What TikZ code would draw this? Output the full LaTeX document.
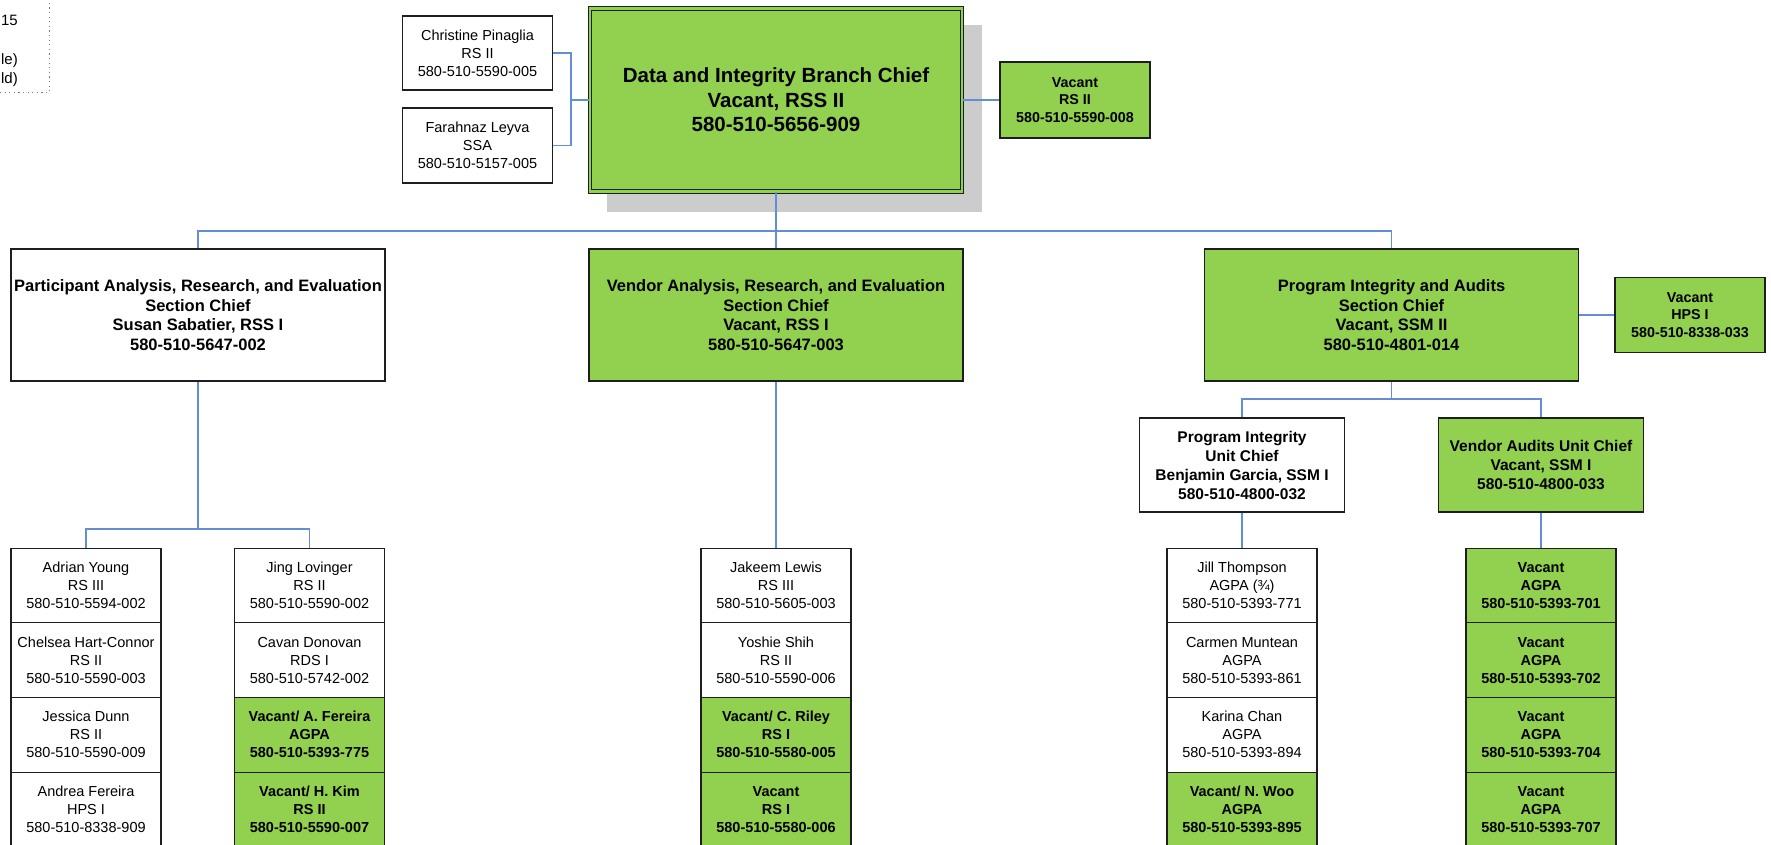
\documentclass[tikz,border=0pt]{standalone}
\usepackage{fontspec}
\setmainfont{Liberation Sans}
\definecolor{vgreen}{RGB}{146,208,80}
\definecolor{linkblue}{RGB}{98,142,212}
\definecolor{boxline}{RGB}{30,30,30}
\definecolor{shadowgray}{RGB}{204,204,204}
\definecolor{legendgray}{RGB}{120,120,120}
\tikzset{
  cell/.style={draw=boxline, line width=1.1pt, inner sep=0pt, align=center,
    minimum width=150pt, minimum height=74.7pt, font=\fontsize{14.5}{18}\selectfont},
  wcell/.style={cell, fill=white},
  gcell/.style={cell, fill=vgreen, font=\fontsize{14.5}{18}\selectfont\bfseries},
  section/.style={draw=boxline, line width=1.1pt, inner sep=0pt, align=center,
    minimum width=374pt, minimum height=132pt, font=\fontsize{16.5}{19.6}\selectfont\bfseries},
  unit/.style={draw=boxline, line width=1.1pt, inner sep=0pt, align=center,
    minimum width=205pt, minimum height=94pt, font=\fontsize{15.5}{19}\selectfont\bfseries},
  chiefbox/.style={draw=boxline, line width=1.1pt, double=vgreen, double distance=2.6pt,
    fill=vgreen, inner sep=0pt, align=center, minimum width=372pt, minimum height=183pt,
    font=\fontsize{20.5}{24.5}\selectfont\bfseries},
  conn/.style={draw=linkblue, line width=1.3pt},
  legendtxt/.style={anchor=east, inner sep=0pt, font=\fontsize{15}{18}\selectfont}
}
\begin{document}
\begin{tikzpicture}[x=1pt,y=-1pt]
\useasboundingbox (0,0) rectangle (1771,845);
\clip (0,0) rectangle (1771,845);
\fill[white] (0,0) rectangle (1771,845);

% legend corner (dotted frame)
\draw[legendgray, line width=1pt, dash pattern=on 1.2pt off 3.4pt] (0,93) -- (49,93) -- (49,0);
\node[legendtxt] (lg1) at (18,20) {15};
\node[legendtxt] (lg2) at (18,61) {le)};
\node[legendtxt] (lg3) at (18,80) {ld)};

% branch chief with shadow
\fill[shadowgray] (607,25) rectangle (982,212);
\node[chiefbox] (main) at (776,100) {Data and Integrity Branch Chief\\Vacant, RSS II\\580-510-5656-909};

% staff beside the branch chief
\node[wcell, minimum height=74pt] (chris) at (477.5,53) {Christine Pinaglia\\RS II\\580-510-5590-005};
\node[wcell, minimum height=75pt] (farah) at (477.5,145.5) {Farahnaz Leyva\\SSA\\580-510-5157-005};
\node[gcell, minimum height=76pt, font=\fontsize{14.3}{17.5}\selectfont\bfseries] (rs2) at (1075,100) {Vacant\\RS II\\580-510-5590-008};

% sections
\node[section, fill=white] (part) at (198,315) {Participant Analysis, Research, and Evaluation\\Section Chief\\Susan Sabatier, RSS I\\580-510-5647-002};
\node[section, fill=vgreen] (vend) at (776,315) {Vendor Analysis, Research, and Evaluation\\Section Chief\\Vacant, RSS I\\580-510-5647-003};
\node[section, fill=vgreen] (pia) at (1391.5,315) {Program Integrity and Audits\\Section Chief\\Vacant, SSM II\\580-510-4801-014};
\node[gcell, minimum height=75pt, font=\fontsize{14.3}{17.5}\selectfont\bfseries] (hps) at (1690,315) {Vacant\\HPS I\\580-510-8338-033};

% units
\node[unit, fill=white] (piuc) at (1242,465) {Program Integrity\\Unit Chief\\Benjamin Garcia, SSM I\\580-510-4800-032};
\node[unit, fill=vgreen] (vauc) at (1541,465) {Vendor Audits Unit Chief\\Vacant, SSM I\\580-510-4800-033};

% staff stacks
\node[wcell] (a1) at (86,585.4) {Adrian Young\\RS III\\580-510-5594-002};
\node[wcell] (a2) at (86,660.1) {Chelsea Hart-Connor\\RS II\\580-510-5590-003};
\node[wcell] (a3) at (86,734.8) {Jessica Dunn\\RS II\\580-510-5590-009};
\node[wcell] (a4) at (86,809.5) {Andrea Fereira\\HPS I\\580-510-8338-909};

\node[wcell] (b1) at (309.5,585.4) {Jing Lovinger\\RS II\\580-510-5590-002};
\node[wcell] (b2) at (309.5,660.1) {Cavan Donovan\\RDS I\\580-510-5742-002};
\node[gcell] (b3) at (309.5,734.8) {Vacant/ A. Fereira\\AGPA\\580-510-5393-775};
\node[gcell] (b4) at (309.5,809.5) {Vacant/ H. Kim\\RS II\\580-510-5590-007};

\node[wcell] (v1) at (776,585.4) {Jakeem Lewis\\RS III\\580-510-5605-003};
\node[wcell] (v2) at (776,660.1) {Yoshie Shih\\RS II\\580-510-5590-006};
\node[gcell] (v3) at (776,734.8) {Vacant/ C. Riley\\RS I\\580-510-5580-005};
\node[gcell] (v4) at (776,809.5) {Vacant\\RS I\\580-510-5580-006};

\node[wcell] (c1) at (1242,585.4) {Jill Thompson\\AGPA (¾)\\580-510-5393-771};
\node[wcell] (c2) at (1242,660.1) {Carmen Muntean\\AGPA\\580-510-5393-861};
\node[wcell] (c3) at (1242,734.8) {Karina Chan\\AGPA\\580-510-5393-894};
\node[gcell] (c4) at (1242,809.5) {Vacant/ N. Woo\\AGPA\\580-510-5393-895};

\node[gcell] (d1) at (1541,585.4) {Vacant\\AGPA\\580-510-5393-701};
\node[gcell] (d2) at (1541,660.1) {Vacant\\AGPA\\580-510-5393-702};
\node[gcell] (d3) at (1541,734.8) {Vacant\\AGPA\\580-510-5393-704};
\node[gcell] (d4) at (1541,809.5) {Vacant\\AGPA\\580-510-5393-707};

% junction points
\coordinate (lj) at (571,100);
\coordinate (bus) at (776,231);
\coordinate (pbus) at (198,529);
\coordinate (iabus) at (1391.5,399);

% connectors
\draw[conn] (chris.east) -| (lj) |- (farah.east);
\draw[conn] (lj) -- (main.west);
\draw[conn] (main.east) -- (rs2.west);
\draw[conn] (main.south) -- (bus);
\draw[conn] (part.north) |- (bus) -| (pia.north);
\draw[conn] (bus) -- (vend.north);
\draw[conn] (pia.east) -- (hps.west);
\draw[conn] (part.south) -- (pbus);
\draw[conn] (a1.north) |- (pbus) -| (b1.north);
\draw[conn] (vend.south) -- (v1.north);
\draw[conn] (pia.south) -- (iabus);
\draw[conn] (piuc.north) |- (iabus) -| (vauc.north);
\draw[conn] (piuc.south) -- (c1.north);
\draw[conn] (vauc.south) -- (d1.north);
\end{tikzpicture}
\end{document}
